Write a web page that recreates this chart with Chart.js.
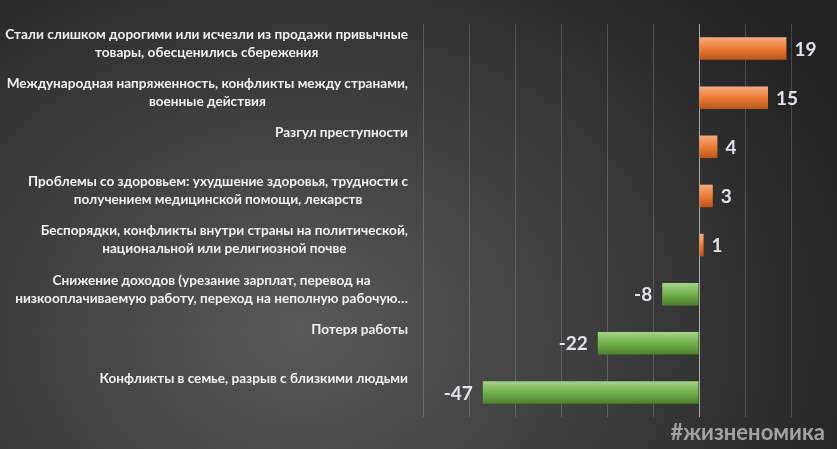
<!DOCTYPE html>
<html>
<head>
<meta charset="utf-8">
<script src="https://cdn.jsdelivr.net/npm/chart.js@4/dist/chart.umd.min.js"></script>
<style>
  html, body { margin: 0; padding: 0; background: #2a2a2a; }
  #wrap { position: relative; width: 837px; height: 449px;
          background: radial-gradient(ellipse 600px 480px at 300px 330px, #595959 0%, #3a3a3a 55%, #222 100%); }
  #tag { position: absolute; right: 12px; bottom: 4px; font: bold 22px Lato, sans-serif; color: #a3a3a3; }
</style>
</head>
<body>
<div id="wrap">
  <canvas id="reasonsChart" width="837" height="449"></canvas>
  <div id="tag">#жизненомика</div>
</div>
<script>
// Categories (each one is a list of lines, as wrapped in the original)
const categories = [
  ['Стали слишком дорогими или исчезли из продажи привычные', 'товары, обесценились сбережения'],
  ['Международная напряженность, конфликты между странами,', 'военные действия'],
  ['Разгул преступности'],
  ['Проблемы со здоровьем: ухудшение здоровья, трудности с', 'получением медицинской помощи, лекарств'],
  ['Беспорядки, конфликты внутри страны на политической,', 'национальной или религиозной почве'],
  ['Снижение доходов (урезание зарплат, перевод на', 'низкооплачиваемую работу, переход на неполную рабочую…'],
  ['Потеря работы'],
  ['Конфликты в семье, разрыв с близкими людьми']
];
const values = [19, 15, 4, 3, 1, -8, -22, -47];
const axisMin = -60;
const axisMax = 20;
const barPct = 0.46;

// bar fill: vertical gradient across each bar
function barFill(ctx) {
  const chart = ctx.chart;
  const pos = values[ctx.dataIndex] >= 0;
  const ys = chart.scales.y;
  if (!chart.chartArea || !ys || ctx.dataIndex === undefined) return pos ? '#ed7d31' : '#70ad47';
  const mid = ys.getPixelForValue(ctx.dataIndex);
  const half = (ys.height / categories.length) * barPct / 2;
  const g = chart.ctx.createLinearGradient(0, mid - half, 0, mid + half);
  if (pos) {
    g.addColorStop(0, '#f5ad80');
    g.addColorStop(0.5, '#ec7c35');
    g.addColorStop(1, '#b9561b');
  } else {
    g.addColorStop(0, '#a7d38a');
    g.addColorStop(0.5, '#72b04a');
    g.addColorStop(1, '#4f7f2e');
  }
  return g;
}

// category labels: block right-aligned, lines centered inside block
const categoryLabels = {
  id: 'categoryLabels',
  afterDraw(chart) {
    const c = chart.ctx, y = chart.scales.y;
    const rightEdge = 408;
    c.save();
    c.font = 'bold 13.6px Lato, sans-serif';
    c.fillStyle = '#f0f0f0';
    c.textAlign = 'center';
    c.textBaseline = 'middle';
    categories.forEach((lines, i) => {
      const w = Math.max(...lines.map(l => c.measureText(l).width));
      const cx = rightEdge - w / 2;
      const y0 = y.getPixelForValue(i) - 14;
      lines.forEach((l, k) => c.fillText(l, cx, y0 + k * 18));
    });
    c.restore();
  }
};

// value labels next to bar ends
const valueLabels = {
  id: 'valueLabels',
  afterDatasetsDraw(chart) {
    const c = chart.ctx;
    const meta = chart.getDatasetMeta(0);
    c.save();
    c.font = 'bold 19px Lato, sans-serif';
    c.fillStyle = '#dfe4ea';
    c.textBaseline = 'middle';
    meta.data.forEach((bar, i) => {
      const v = values[i];
      if (v >= 0) {
        c.textAlign = 'left';
        c.fillText(String(v), bar.x + 8, bar.y + 1);
      } else {
        c.textAlign = 'right';
        c.fillText(String(v), bar.x - 10, bar.y + 1);
      }
    });
    c.restore();
  }
};

const ctx = document.getElementById('reasonsChart').getContext('2d');
new Chart(ctx, {
  type: 'bar',
  data: {
    labels: categories.map(l => l.join(' ')),
    datasets: [{
      data: values,
      backgroundColor: barFill,
      borderWidth: 0,
      categoryPercentage: 1,
      barPercentage: barPct
    }]
  },
  options: {
    indexAxis: 'y',
    responsive: false,
    animation: false,
    layout: { padding: { left: 423, right: 46, top: 24, bottom: 32 } },
    plugins: { legend: { display: false }, tooltip: { enabled: false } },
    scales: {
      x: {
        min: axisMin,
        max: axisMax,
        ticks: { display: false, stepSize: 10 },
        border: { display: false },
        grid: {
          drawTicks: false,
          color: c => c.tick && c.tick.value === 0 ? 'rgba(210,210,210,0.75)' : 'rgba(255,255,255,0.18)',
          lineWidth: 1
        }
      },
      y: {
        display: false
      }
    }
  },
  plugins: [categoryLabels, valueLabels]
});
</script>
</body>
</html>
